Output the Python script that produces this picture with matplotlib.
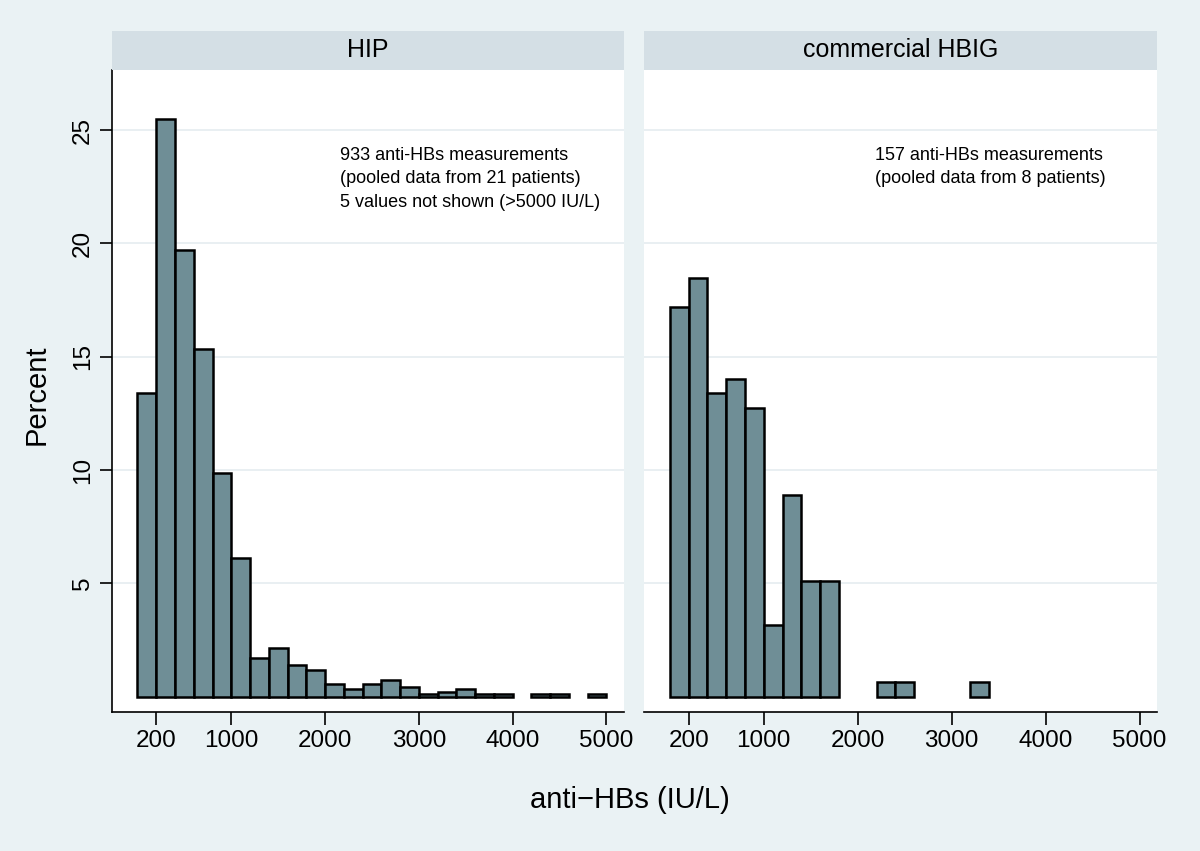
import matplotlib
matplotlib.use("Agg")
import matplotlib.pyplot as plt
from matplotlib.patches import Rectangle

plt.rcParams['font.family'] = ['Liberation Sans', 'DejaVu Sans']

# histogram bins (lower edge, width 200 IU/L) and percentages per panel
hip_bins = [0, 200, 400, 600, 800, 1000, 1200, 1400, 1600, 1800, 2000, 2200,
            2400, 2600, 2800, 3000, 3200, 3400, 3600, 3800, 4000, 4200, 4400,
            4600, 4800]
hip_pct = [13.40, 25.51, 19.72, 15.33, 9.86, 6.11, 1.71, 2.14, 1.39, 1.18,
           0.54, 0.32, 0.54, 0.75, 0.43, 0.11, 0.21, 0.32, 0.11, 0.11,
           0.0, 0.11, 0.11, 0.0, 0.11]

hbig_bins = [0, 200, 400, 600, 800, 1000, 1200, 1400, 1600, 1800, 2000,
             2200, 2400, 2600, 2800, 3000, 3200]
hbig_pct = [17.20, 18.47, 13.38, 14.01, 12.74, 3.18, 8.92, 5.10, 5.10,
            0.0, 0.0, 0.64, 0.64, 0.0, 0.0, 0.0, 0.64]

bin_width = 200
panel_titles = ["HIP", "commercial HBIG"]
notes = ["933 anti-HBs measurements\n(pooled data from 21 patients)\n5 values not shown (>5000 IU/L)",
         "157 anti-HBs measurements\n(pooled data from 8 patients)"]
xticks = [200, 1000, 2000, 3000, 4000, 5000]
yticks = [5, 10, 15, 20, 25]

bg = '#eaf2f4'
strip = '#d4dfe5'
bar_col = '#6f8e96'
grid_col = '#e7eef1'

W, H = 1200, 851
fig = plt.figure(figsize=(W / 100, H / 100), dpi=100, facecolor=bg)

# axes boxes in pixels: left, right, top, bottom
boxes = [(111.7, 623.7), (644.0, 1157.0)]
top_px, bot_px = 69.6, 712.3
strip_top = 31.0

data = [(hip_bins, hip_pct), (hbig_bins, hbig_pct)]
for i, (x0, x1) in enumerate(boxes):
    ax = fig.add_axes([x0 / W, 1 - bot_px / H, (x1 - x0) / W, (bot_px - top_px) / H])
    ax.set_facecolor('white')
    bins, pct = data[i]
    xs = [b for b, p in zip(bins, pct) if p > 0]
    hs = [p for p in pct if p > 0]
    ax.bar(xs, hs, width=bin_width, align='edge', color=bar_col,
           edgecolor='black', linewidth=1.8, zorder=3)
    ax.set_xlim(-275, 5185)
    ax.set_ylim(-0.69, 27.67)
    for y in yticks:
        ax.axhline(y, color=grid_col, lw=1.3, zorder=1)
    ax.set_xticks(xticks)
    ax.set_xticklabels([str(t) for t in xticks], fontsize=17.5)
    ax.tick_params(axis='x', direction='out', length=9, width=1.2, pad=4)
    for s in ['top', 'right']:
        ax.spines[s].set_visible(False)
    ax.spines['bottom'].set_linewidth(1.2)
    if i == 0:
        ax.set_yticks(yticks)
        ax.set_yticklabels([str(t) for t in yticks], fontsize=17.5, rotation=90, va='center')
        ax.tick_params(axis='y', direction='out', length=9, width=1.2, pad=4)
        ax.spines['left'].set_linewidth(1.2)
    else:
        ax.set_yticks([])
        ax.spines['left'].set_visible(False)
    ax.text(0.445 if i == 0 else 0.45, 0.879, notes[i], transform=ax.transAxes,
            fontsize=13, ha='left', va='top', linespacing=1.47)

    # header strip
    fig.patches.append(Rectangle((x0 / W, 1 - top_px / H), (x1 - x0) / W,
                                 (top_px - strip_top) / H, transform=fig.transFigure,
                                 facecolor=strip, edgecolor='none'))
    fig.text((x0 + x1) / 2 / W, 1 - (top_px + strip_top) / 2 / H, panel_titles[i],
             ha='center', va='center', fontsize=18)

fig.text(37 / W, 1 - 395 / H, 'Percent', rotation=90, ha='center', va='center', fontsize=21)
fig.text(630 / W, 1 - 800 / H, 'anti\u2212HBs (IU/L)', ha='center', va='center', fontsize=21)

fig.savefig('out.png', dpi=100, facecolor=bg)
